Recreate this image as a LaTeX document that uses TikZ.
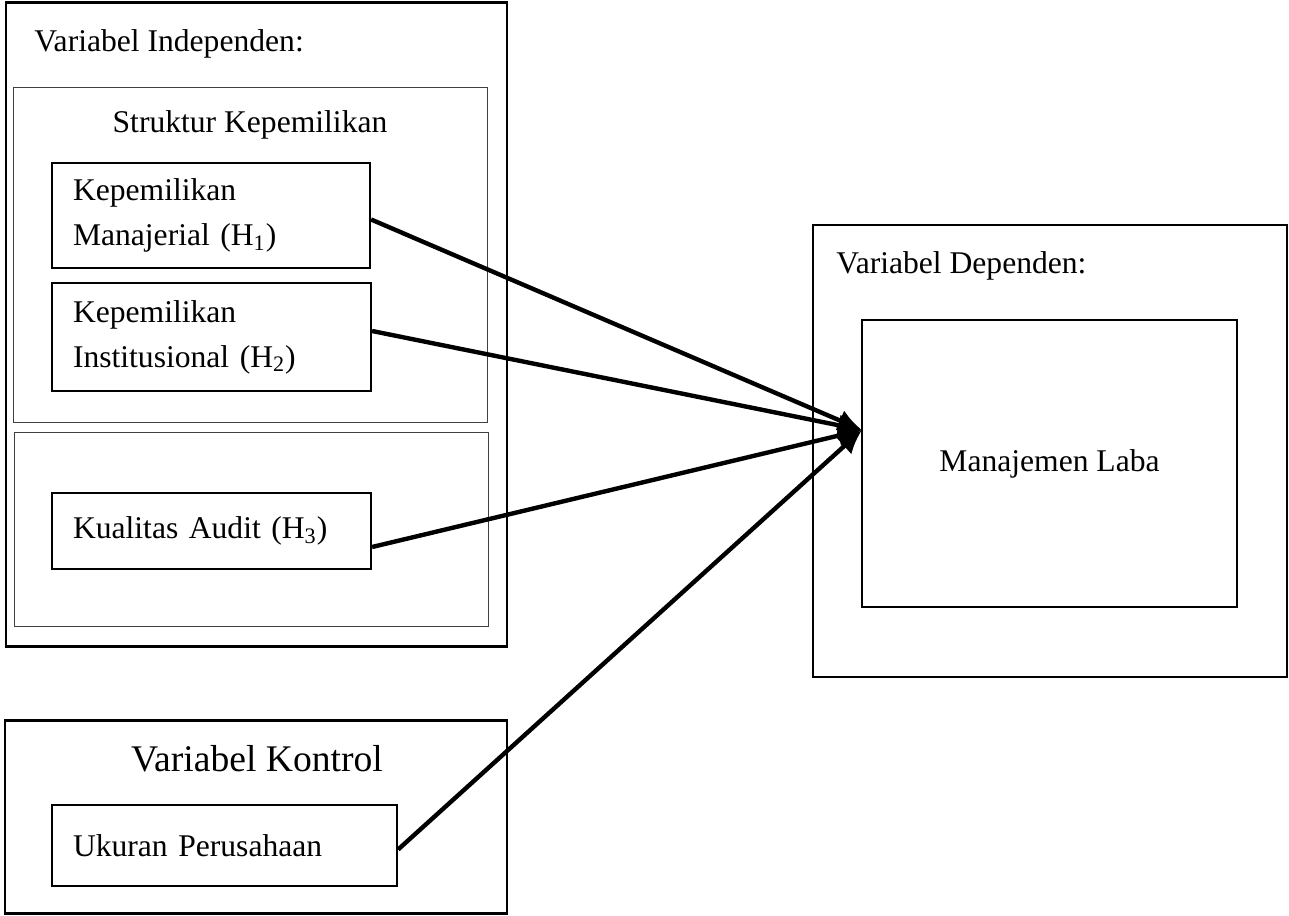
\documentclass[tikz,border=0pt]{standalone}
\usepackage{fontspec}
\setmainfont{Liberation Serif}
\usetikzlibrary{arrows.meta}
\begin{document}
\begin{tikzpicture}[x=0.5pt,y=-0.5pt,
  thinbox/.style={draw=black!75,line width=0.5pt},
  varbox/.style={draw,line width=1.1pt,align=left,inner xsep=10.5pt,inner ysep=0pt,font=\fontsize{15.8}{22.5}\selectfont},
  lbl/.style={inner sep=0pt,font=\fontsize{15.8}{22.5}\selectfont},
  conn/.style={line width=2.2pt,-{Latex[length=12pt,width=11pt]}}]
\useasboundingbox (0,0) rectangle (1289,915);
% outer boxes
\node[draw,line width=1.4pt,minimum width=250.5pt,minimum height=322pt,inner sep=0pt] (ind) at (256.5,324.5) {};
\node[draw,line width=1.4pt,minimum width=237pt,minimum height=226pt,inner sep=0pt] (dep) at (1050,451) {};
\node[draw,line width=1.4pt,minimum width=251pt,minimum height=96.5pt,inner sep=0pt] (kon) at (256,817) {};
% thin group boxes
\node[thinbox,minimum width=237pt,minimum height=167pt,inner sep=0pt] (sk) at (250,255) {};
\node[thinbox,minimum width=237pt,minimum height=97pt,inner sep=0pt] (ka) at (251,529) {};
% titles
\node[lbl,anchor=base west] (tind) at (34,52) {Variabel Independen:};
\node[lbl] (tsk) at (250,125) {Struktur Kepemilikan};
\node[lbl,anchor=base west] (tdep) at (836,273) {Variabel Dependen:};
\node[inner sep=0pt,font=\fontsize{18.8}{22}\selectfont] (tkon) at (257,759) {Variabel Kontrol};
% variable boxes
\node[varbox,text width=138pt,minimum height=52.5pt] (km) at (211,215.5) {Kepemilikan\\Manajerial (H\textsubscript{1})};
\node[varbox,text width=138.5pt,minimum height=54pt] (ki) at (211.5,337) {Kepemilikan\\Institusional (H\textsubscript{2})};
\node[varbox,text width=138.5pt,minimum height=38pt] (kau) at (211.5,531) {Kualitas Audit (H\textsubscript{3})};
\node[varbox,text width=151.5pt,minimum height=40.5pt] (up) at (224.5,845.5) {Ukuran Perusahaan};
\node[draw,line width=1.1pt,minimum width=187.5pt,minimum height=143.5pt,inner sep=0pt,font=\fontsize{15.8}{22.5}\selectfont] (ml) at (1049.5,463.5) {Manajemen Laba};
% connectors
\coordinate (tip) at (862,430);
\draw[conn] ([yshift=-2]km.east) -- (tip);
\draw[conn] ([yshift=3]ki.east) -- (tip);
\draw[conn] ([yshift=-8]kau.east) -- (tip);
\draw[conn] ([yshift=-2]up.east) -- (tip);
\end{tikzpicture}
\end{document}
